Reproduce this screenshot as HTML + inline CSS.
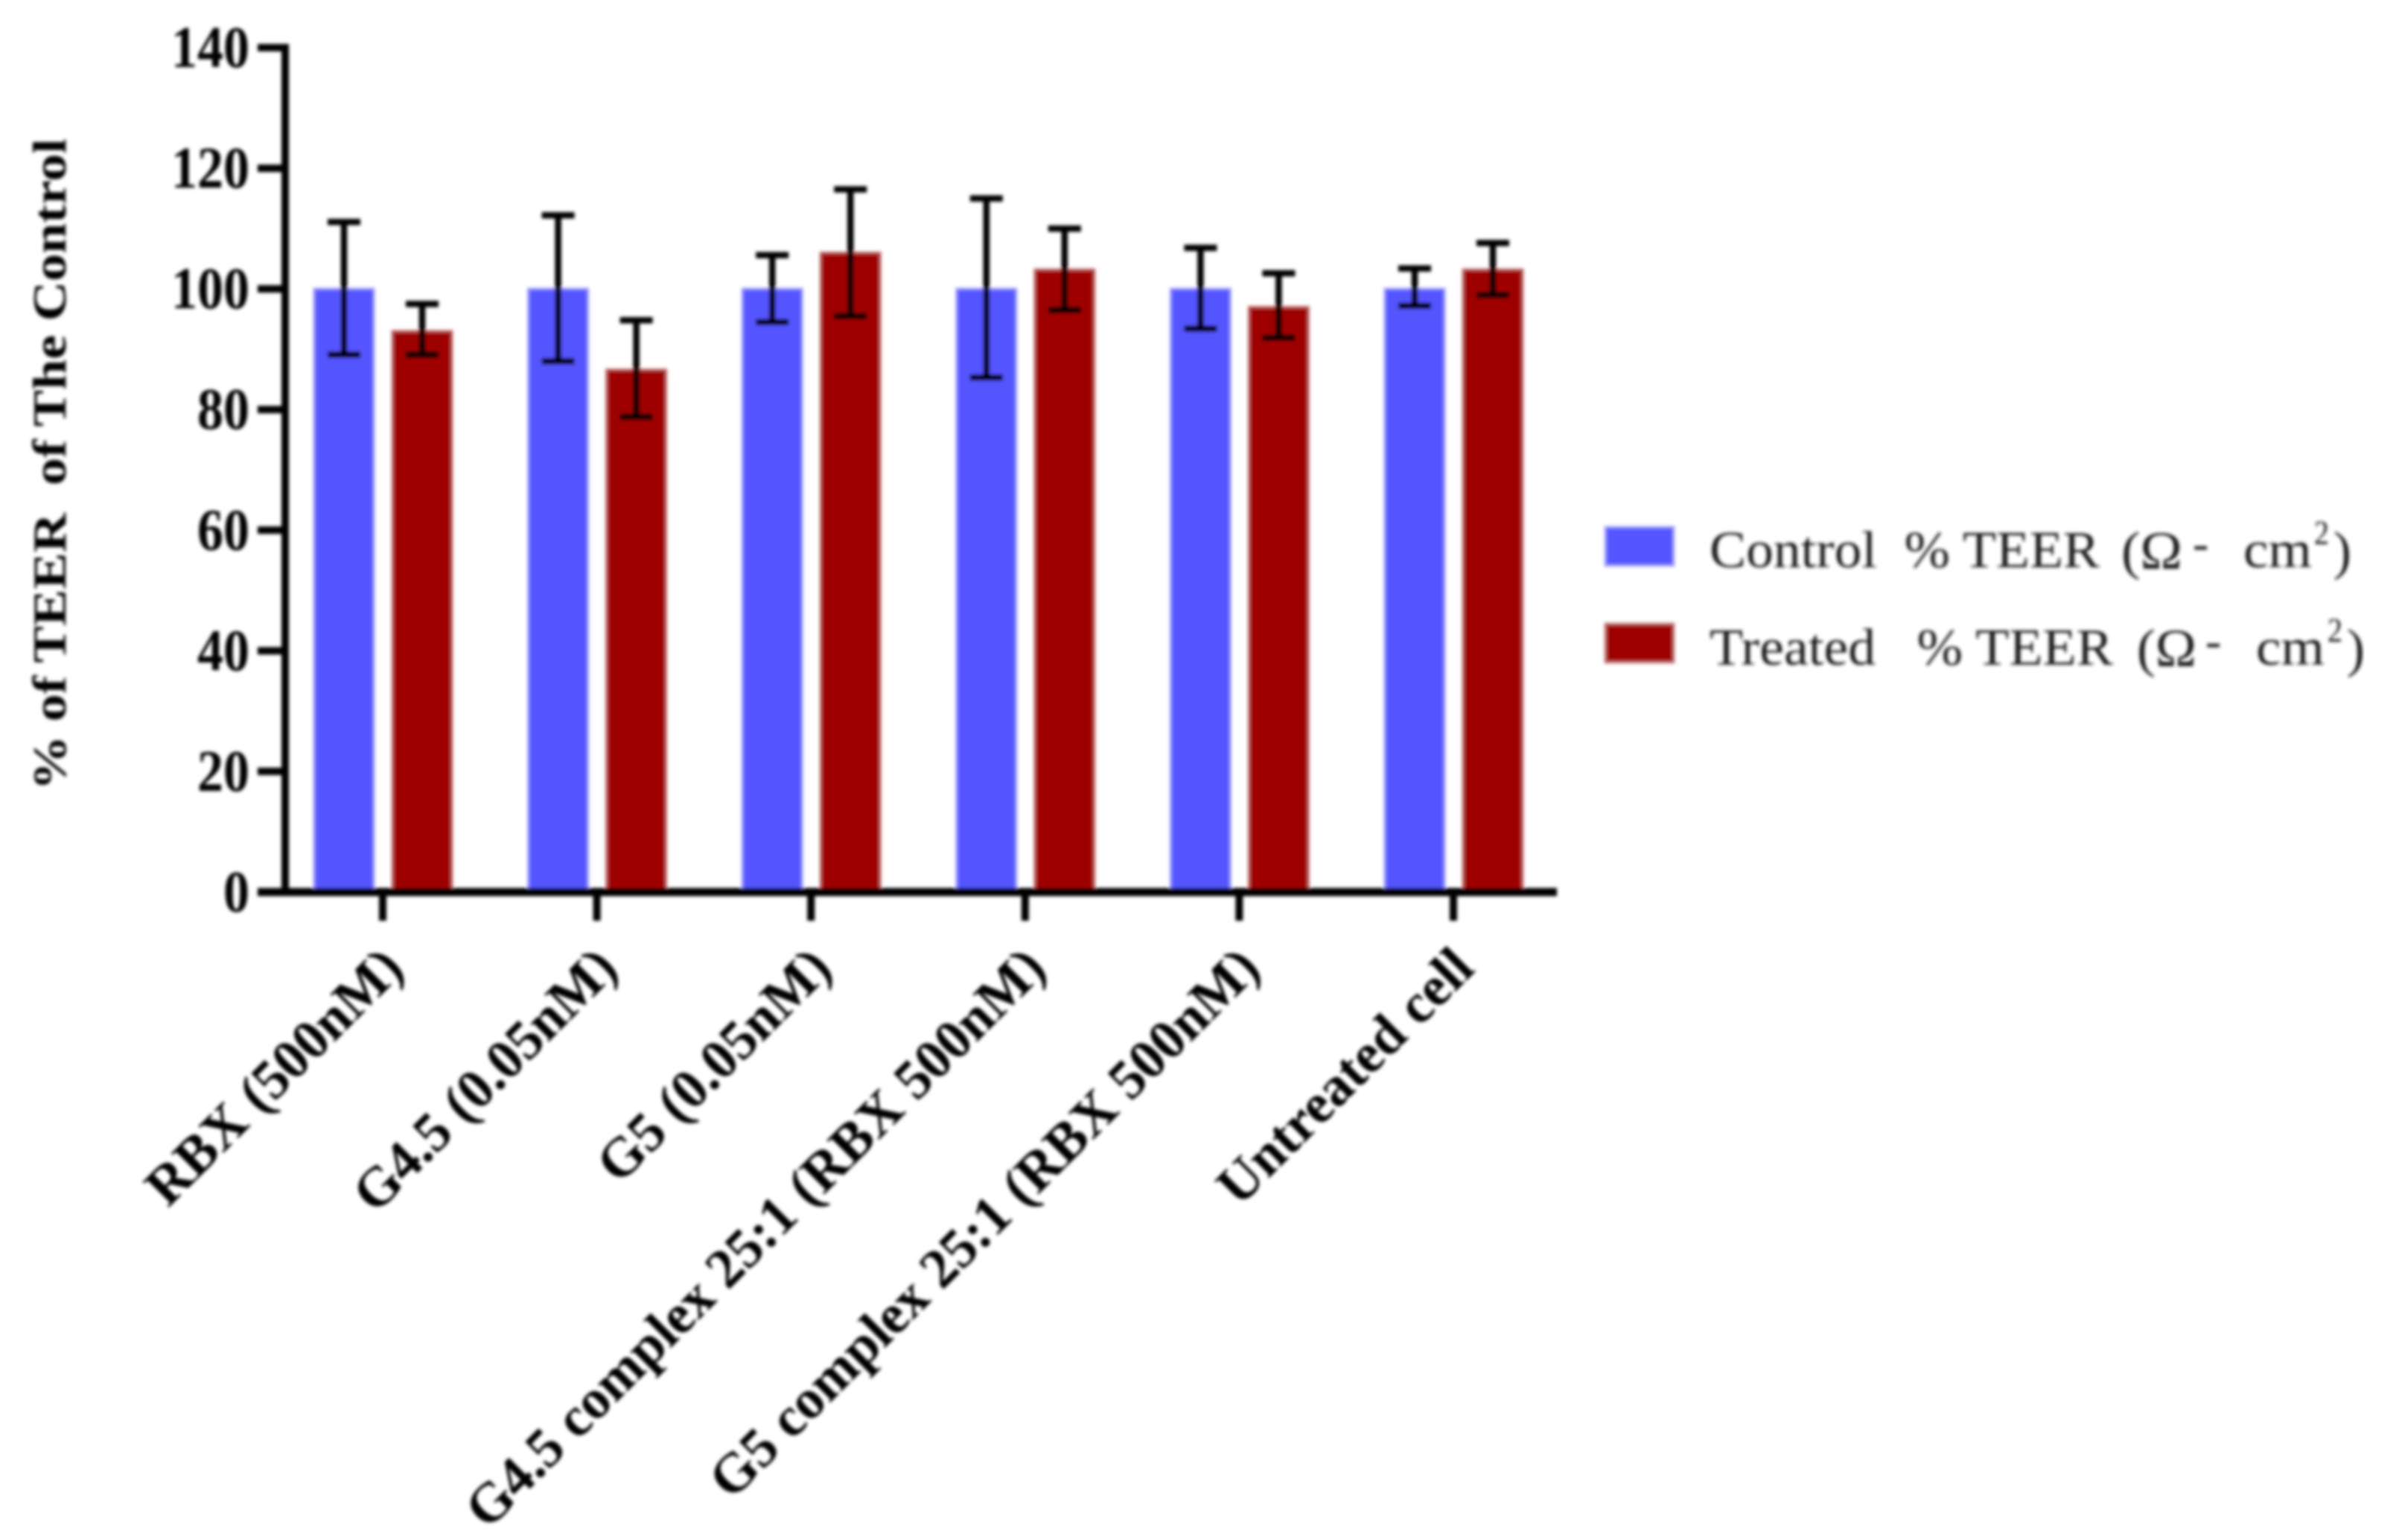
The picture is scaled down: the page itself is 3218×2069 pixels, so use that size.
<!DOCTYPE html>
<html lang="en">
<head>
<meta charset="utf-8">
<title>% of TEER of The Control</title>
<style>
html,body{margin:0;padding:0;background:#fff}
svg{display:block}
text{font-family:"Liberation Serif","DejaVu Serif",serif;fill:#000}
.b{font-weight:bold}
.lg{fill:#1a1a1a}
</style>
</head>
<body>
<svg id="chart" xmlns="http://www.w3.org/2000/svg" width="3218" height="2069" viewBox="0 0 3218 2069">
<defs><filter id="soft" x="0" y="0" width="100%" height="100%" filterUnits="objectBoundingBox"><feGaussianBlur stdDeviation="2.4"/></filter></defs>
<rect x="0" y="0" width="3218" height="2069" fill="#fff"/>
<g id="root" filter="url(#soft)">
<text class="b" transform="translate(88,1062) rotate(-90)" font-size="64" textLength="876" lengthAdjust="spacingAndGlyphs" xml:space="preserve">% of TEER  of The Control</text>
<g id="marks"></g>
<g>
<g>
<rect x="2156" y="708" width="92" height="52" fill="#5555ff" stroke="#a8a8ff" stroke-width="3"/>
<text class="lg" x="2296" y="762" font-size="70" textLength="524" lengthAdjust="spacingAndGlyphs" xml:space="preserve">Control  % TEER</text>
<text class="lg" x="2849" y="764" font-size="72" textLength="82" lengthAdjust="spacingAndGlyphs">(Ω</text>
<text class="lg" x="2945" y="751" font-size="64">-</text>
<text class="lg" x="3013" y="762" font-size="70" textLength="92" lengthAdjust="spacingAndGlyphs">cm</text>
<text class="lg" x="3108" y="731" font-size="46" textLength="20" lengthAdjust="spacingAndGlyphs">2</text>
<text class="lg" x="3134" y="764" font-size="72">)</text>
</g>
<g>
<rect x="2156" y="838" width="92" height="52" fill="#9e0000" stroke="#c88080" stroke-width="3"/>
<text class="lg" x="2296" y="893" font-size="70" textLength="542" lengthAdjust="spacingAndGlyphs" xml:space="preserve">Treated   % TEER</text>
<text class="lg" x="2870" y="895" font-size="72" textLength="80" lengthAdjust="spacingAndGlyphs">(Ω</text>
<text class="lg" x="2962" y="882" font-size="64">-</text>
<text class="lg" x="3030" y="893" font-size="70" textLength="92" lengthAdjust="spacingAndGlyphs">cm</text>
<text class="lg" x="3126" y="862" font-size="46" textLength="20" lengthAdjust="spacingAndGlyphs">2</text>
<text class="lg" x="3152" y="895" font-size="72">)</text>
</g>
</g>
</g>
</svg>
<script>
const categories = ["RBX (500nM)", "G4.5 (0.05nM)", "G5 (0.05nM)", "G4.5 complex 25:1 (RBX 500nM)", "G5 complex 25:1 (RBX 500nM)", "Untreated cell"];
const controlValues = [100, 100, 100, 100, 100, 100];
const controlHigh = [111.1, 112.2, 105.6, 115, 106.8, 103.4];
const controlLow = [89.1, 88, 94.5, 85.3, 93.4, 97.2];
const treatedValues = [93, 86.6, 106, 103.2, 97, 103.2];
const treatedHigh = [97.5, 94.8, 116.5, 110, 102.6, 107.6];
const treatedLow = [89.1, 78.8, 95.5, 96.5, 91.9, 99];
const yTickLabels = [0, 20, 40, 60, 80, 100, 120, 140];

const NS = "http://www.w3.org/2000/svg";
const marks = document.getElementById("marks");
const yScale = v => 1198.5 - v * (1134.5 / 140);
const xScale = i => 514 + i * 287.6;
const CONTROL_OFFSET = -52, TREATED_OFFSET = 53, BAR_W = 80, CAP_W = 44;

function node(tag, attrs) {
  const el = document.createElementNS(NS, tag);
  for (const k in attrs) el.setAttribute(k, attrs[k]);
  marks.appendChild(el);
  return el;
}
function drawSeries(key, values, high, low, offset, color, edge) {
  values.forEach((v, i) => {
    const cx = xScale(i) + offset;
    const bar = node("rect", {x: cx - BAR_W / 2, y: yScale(v), width: BAR_W, height: yScale(0) - yScale(v), fill: color, stroke: edge, "stroke-width": 3});
    
    
  });
  values.forEach((v, i) => {
    const cx = xScale(i) + offset;
    const p = `M${cx - CAP_W / 2} ${yScale(high[i])}H${cx + CAP_W / 2}M${cx} ${yScale(high[i])}V${yScale(low[i])}M${cx - CAP_W / 2} ${yScale(low[i])}H${cx + CAP_W / 2}`;
    const err = node("path", {d: p, stroke: "#000", "stroke-width": 8.5, fill: "none"});
    
    
  });
}
drawSeries('control', controlValues, controlHigh, controlLow, CONTROL_OFFSET, '#5555ff', '#9a9aff');
drawSeries('treated', treatedValues, treatedHigh, treatedLow, TREATED_OFFSET, '#9e0000', '#c06a6a');

const yAxisLine = node("line", {x1: 383, x2: 383, y1: yScale(140) - 5, y2: yScale(0) + 5, stroke: "#000", "stroke-width": 10});


const xAxisLine = node("line", {x1: 346, x2: 2091, y1: yScale(0), y2: yScale(0), stroke: "#000", "stroke-width": 11});



yTickLabels.forEach(t => {
  const tick = node("line", {x1: 346, x2: 383, y1: yScale(t), y2: yScale(t), stroke: "#000", "stroke-width": 10});
  
  
  const lab = node("text", {transform: `translate(335,${yScale(t) + 26}) scale(1,1.14)`, "text-anchor": "end", "font-size": 70, class: "b"});
  
  
  lab.textContent = t;
});

categories.forEach((c, i) => {
  const x = xScale(i);
  const tick = node("line", {x1: x, x2: x, y1: yScale(0), y2: 1237, stroke: "#000", "stroke-width": 10});
  
  
  const lab = node("text", {transform: `translate(${x + 31},1304) rotate(-45)`, "text-anchor": "end", "font-size": 75, class: "b"});
  
  
  lab.textContent = c;
});
</script>
</body>
</html>
